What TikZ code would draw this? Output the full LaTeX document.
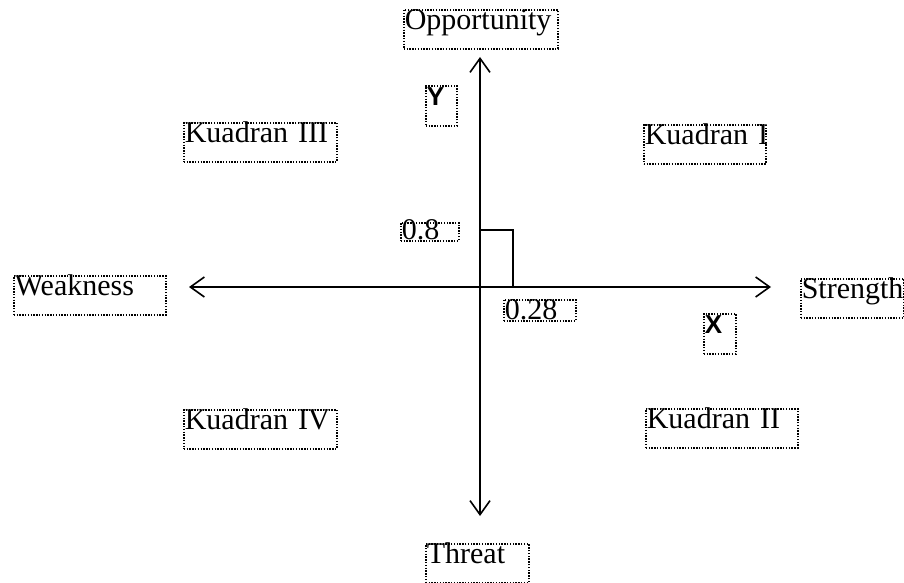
\documentclass[tikz,border=0pt]{standalone}
\usepackage{fontspec}
\setmainfont{Liberation Serif}
\newfontfamily\axisfont{Liberation Sans}
\usetikzlibrary{arrows.meta}
\tikzstyle{axis} = [line width=0.8pt,
    {Straight Barb[length=7pt,width=10pt]}-{Straight Barb[length=7pt,width=10pt]}]
\tikzstyle{guide} = [line width=0.8pt]
\tikzstyle{txtbox} = [
    draw, line width=0.8pt, dash pattern=on 0.7pt off 0.7pt, anchor=north west,
    inner sep=0.5pt, align=left, text height=9.5pt, text depth=9pt,
    font=\fontsize{15}{16}\selectfont]
\tikzstyle{numbox} = [txtbox, text height=8pt, text depth=0pt]
\tikzstyle{varbox} = [txtbox, text height=9.5pt, text depth=9.5pt,
    font=\axisfont\bfseries\fontsize{13}{14}\selectfont]

\begin{document}
\begin{tikzpicture}[x=0.5pt,y=-0.5pt]
\useasboundingbox (0,0) rectangle (904,583);

% labels
\node (opp) [txtbox, text width=76pt] at (403,9) {Opportunity};
\node (ylab) [varbox, text width=14.5pt] at (425,85) {Y};
\node (q3) [txtbox, text width=75.5pt] at (183,122) {Kuadran III};
\node (q1) [txtbox, text width=60pt] at (643,124) {Kuadran~I};
\node (v08) [numbox, text width=28pt] at (400,222) {0.8};
\node (weak) [txtbox, text width=75pt] at (13,275) {Weakness};
\node (str) [txtbox, text width=50.5pt] at (800,278) {Strength};
\node (v028) [numbox, text height=9.5pt, text width=35pt] at (503,299) {0.28};
\node (xlab) [varbox, text width=15pt] at (703,313) {X};
\node (q4) [txtbox, text width=75.5pt] at (183,409) {Kuadran IV};
\node (q2) [txtbox, text width=75pt] at (645,408) {Kuadran II};
\node (thr) [txtbox, text width=50.5pt] at (425,543) {Threat};

% axes
\coordinate (top) at (480,57);
\coordinate (bottom) at (480,516);
\coordinate (left) at (189,287);
\coordinate (right) at (771,287);
\coordinate (sq) at (513,230);
\draw [axis] (top) -- (bottom);
\draw [axis] (left) -- (right);
\draw [guide] (top |- sq) -- (sq) -- (sq |- left);
\end{tikzpicture}
\end{document}
